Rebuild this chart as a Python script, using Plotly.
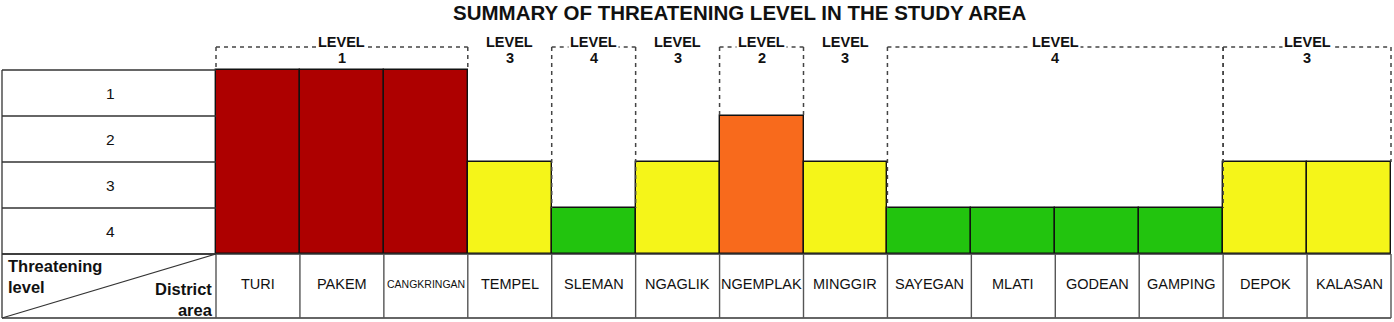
import plotly.graph_objects as go

# ---------------- data ----------------
districts = ["TURI", "PAKEM", "CANGKRINGAN", "TEMPEL", "SLEMAN", "NGAGLIK", "NGEMPLAK",
             "MINGGIR", "SAYEGAN", "MLATI", "GODEAN", "GAMPING", "DEPOK", "KALASAN"]
threat_levels = [1, 1, 1, 3, 4, 3, 2, 3, 4, 4, 4, 4, 3, 3]
level_rows = [1, 2, 3, 4]
level_colors = {1: "#AD0000", 2: "#F86A1C", 3: "#F5F519", 4: "#22C40E"}
title_text = "SUMMARY OF THREATENING LEVEL IN THE STUDY AREA"

# ---------------- layout helpers (pixel -> data) ----------------
W, H = 1394, 322
X0_PX, COL_PX = 216.0, (1391.0 - 216.0) / 14
Y0_PX, ROW_PX = 254.0, 46.0
FONT = "Liberation Sans, Arial, sans-serif"


def X(px):
    return (px - X0_PX) / COL_PX


def Y(py):
    return (Y0_PX - py) / ROW_PX


n = len(districts)
heights = [5 - lv for lv in threat_levels]

fig = go.Figure()
fig.add_trace(go.Bar(
    x=[i + 0.5 for i in range(n)],
    y=heights,
    width=1,
    marker=dict(color=[level_colors[lv] for lv in threat_levels],
                line=dict(color="#111111", width=1.4)),
    hoverinfo="skip",
    showlegend=False,
))

shapes = []
ann = []
GRID = "#333333"
left = X(2)
bottom = Y(318)
top = 4

# left table rows
for k in range(0, 5):
    shapes.append(dict(type="line", x0=left, x1=0, y0=k, y1=k,
                       line=dict(color=GRID, width=1.3)))
shapes.append(dict(type="line", x0=left, x1=left, y0=top, y1=bottom,
                   line=dict(color=GRID, width=1.3)))
for lv in level_rows:
    ann.append(dict(x=X(110), y=(5 - lv) - 0.5, text=str(lv), showarrow=False,
                    font=dict(family=FONT, size=15.5, color="#111")))

# label row
shapes.append(dict(type="line", x0=left, x1=n, y0=0, y1=0,
                   line=dict(color=GRID, width=1.3)))
shapes.append(dict(type="line", x0=left, x1=n, y0=bottom, y1=bottom,
                   line=dict(color="#666666", width=2.2)))
for i in range(n + 1):
    shapes.append(dict(type="line", x0=i, x1=i, y0=bottom, y1=0,
                       line=dict(color="#555555", width=1.4)))
shapes.append(dict(type="line", x0=left, x1=0, y0=bottom, y1=0,
                   line=dict(color=GRID, width=1.2)))

for i, d in enumerate(districts):
    size = 10.5 if len(d) > 9 else 14.5
    ann.append(dict(x=i + 0.5, y=Y(284), text=d, showarrow=False,
                    font=dict(family=FONT, size=size, color="#111")))

ann.append(dict(x=X(7), y=Y(256), text="<b>Threatening<br>level</b>", showarrow=False,
                xanchor="left", yanchor="top", align="left", borderpad=0,
                font=dict(family=FONT, size=16.5, color="#111")))
ann.append(dict(x=X(214), y=Y(320), text="<b>District<br>area</b>", showarrow=False,
                xanchor="right", yanchor="bottom", align="right", borderpad=0,
                font=dict(family=FONT, size=16.5, color="#111")))

# level groups (runs of equal threat level)
groups = []
start = 0
for i in range(1, n + 1):
    if i == n or threat_levels[i] != threat_levels[start]:
        groups.append((threat_levels[start], start, i))
        start = i

DASH = dict(color="#444444", width=1.5, dash="4px,4px")
ytop = Y(47)
for lv, s, e in groups:
    framed = (e - s > 1) or lv != 3
    bar_top = 5 - lv
    if framed:
        shapes.append(dict(type="line", x0=s, x1=e, y0=ytop, y1=ytop, line=DASH))
        shapes.append(dict(type="line", x0=s, x1=s, y0=ytop, y1=bar_top, line=DASH))
        shapes.append(dict(type="line", x0=e, x1=e, y0=ytop, y1=bar_top, line=DASH))
    cx = (s + e) / 2
    ann.append(dict(x=cx, y=Y(42), text="<b>LEVEL</b>", showarrow=False,
                    bgcolor="white" if framed else None, borderpad=1,
                    font=dict(family=FONT, size=14.5, color="#111")))
    ann.append(dict(x=cx, y=Y(58), text=f"<b>{lv}</b>", showarrow=False,
                    font=dict(family=FONT, size=14.5, color="#111")))

ann.append(dict(x=X(739), y=Y(12), text=f"<b>{title_text}</b>", showarrow=False,
                font=dict(family=FONT, size=20.5, color="#111")))

fig.update_layout(
    width=W, height=H,
    margin=dict(l=0, r=0, t=0, b=0, pad=0),
    paper_bgcolor="white", plot_bgcolor="white",
    xaxis=dict(range=[X(0), X(W)], visible=False, fixedrange=True),
    yaxis=dict(range=[Y(H), Y(0)], visible=False, fixedrange=True),
    shapes=shapes,
    annotations=ann,
    bargap=0,
)
fig.write_html("out.html")
